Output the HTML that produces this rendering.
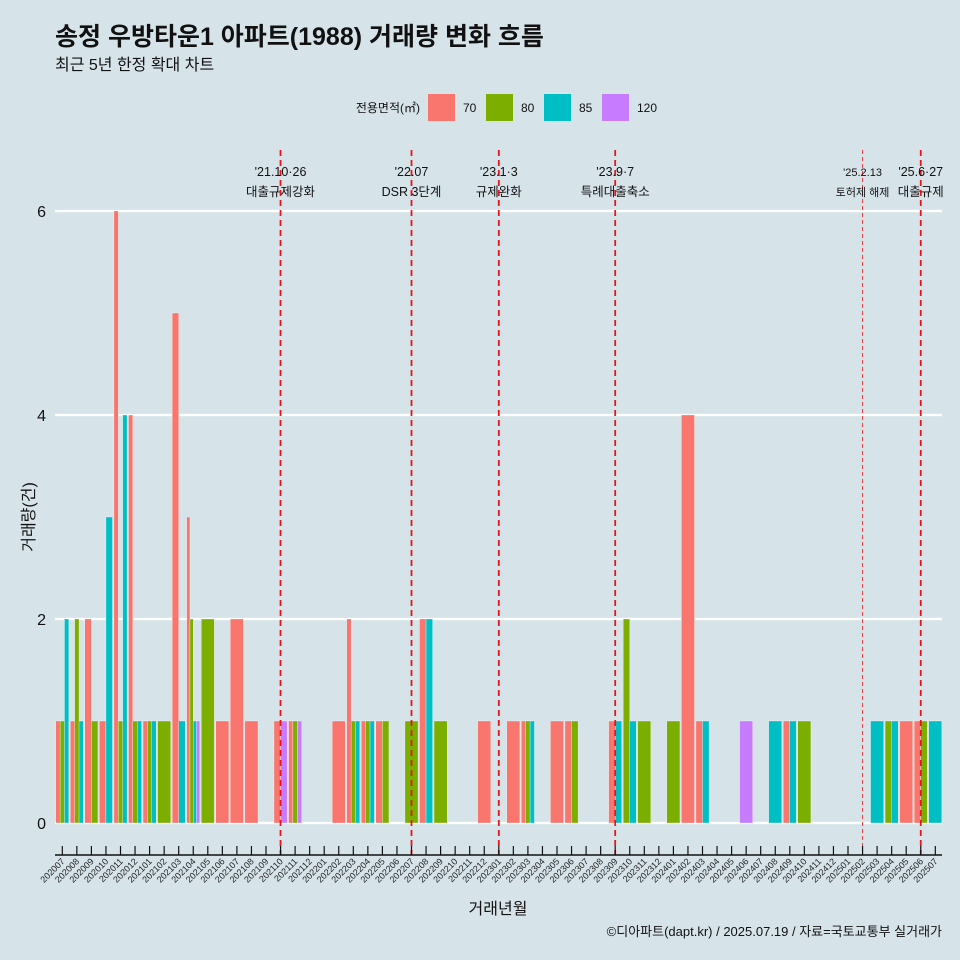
<!DOCTYPE html>
<html><head><meta charset="utf-8"><style>
body{margin:0;background:#d6e4ea;}
svg{display:block;font-family:"Liberation Sans","Noto Sans CJK KR",sans-serif;}
</style></head><body>
<svg id="chart" width="960" height="960" viewBox="0 0 960 960">
<rect x="0" y="0" width="960" height="960" fill="#d6e4ea"/>
<text x="55" y="45" font-size="25" font-weight="bold" fill="#111">송정 우방타운1 아파트(1988) 거래량 변화 흐름</text>
<text x="55" y="70" font-size="16" fill="#111">최근 5년 한정 확대 차트</text>
<g id="legend">
<text x="420" y="112" font-size="12" text-anchor="end" fill="#111">전용면적(㎡)</text>
</g>
<g id="grid"></g>
<g id="bars"></g>
<g id="events"></g>
<g id="xaxis"></g>
<text x="498" y="914" font-size="16" text-anchor="middle" fill="#111">거래년월</text>
<text transform="translate(34,517) rotate(-90)" font-size="16" text-anchor="middle" fill="#111">거래량(건)</text>
<text x="942" y="936" font-size="13" text-anchor="end" fill="#111">©디아파트(dapt.kr) / 2025.07.19 / 자료=국토교통부 실거래가</text>
</svg>
<script>
const types = ["70","80","85","120"];
const colors = ["#F8766D","#7CAE00","#00BFC4","#C77CFF"];
const yTicks = [0,2,4,6];
const startYear = 2020, startMonth = 7, nMonths = 61;
// per-month entries: month label -> list of [typeIndex, count]
const monthLabels = [];
for (let i=0;i<nMonths;i++){const m=startMonth-1+i;monthLabels.push(String(startYear+Math.floor(m/12))+String(m%12+1).padStart(2,"0"));}
const sales = {
"202007":[[0,1],[1,1],[2,2]],
"202008":[[0,1],[1,2],[2,1]],
"202009":[[0,2],[1,1]],
"202010":[[0,1],[2,3]],
"202011":[[0,6],[1,1],[2,4]],
"202012":[[0,4],[1,1],[2,1]],
"202101":[[0,1],[1,1],[2,1]],
"202102":[[1,1]],
"202103":[[0,5],[2,1]],
"202104":[[0,3],[1,2],[2,1],[3,1]],
"202105":[[1,2]],
"202106":[[0,1]],
"202107":[[0,2]],
"202108":[[0,1]],
"202110":[[0,1],[3,1]],
"202111":[[0,1],[1,1],[3,1]],
"202202":[[0,1]],
"202203":[[0,2],[1,1],[2,1]],
"202204":[[0,1],[1,1],[2,1]],
"202205":[[0,1],[1,1]],
"202207":[[1,1]],
"202208":[[0,2],[2,2]],
"202209":[[1,1]],
"202212":[[0,1]],
"202302":[[0,1]],
"202303":[[0,1],[1,1],[2,1]],
"202305":[[0,1]],
"202306":[[0,1],[1,1]],
"202309":[[0,1],[2,1]],
"202310":[[1,2],[2,1]],
"202311":[[1,1]],
"202401":[[1,1]],
"202402":[[0,4]],
"202403":[[0,1],[2,1]],
"202406":[[3,1]],
"202408":[[2,1]],
"202409":[[0,1],[2,1]],
"202410":[[1,1]],
"202503":[[2,1]],
"202504":[[1,1],[2,1]],
"202505":[[0,1]],
"202506":[[0,1],[1,1]],
"202507":[[2,1]]
};
const eventMonths = ["202110","202207","202301","202309","202502","202506"];
const eventDates = ["'21.10·26","'22.07","'23.1·3","'23.9·7","'25.2.13","'25.6·27"];
const eventNames = ["대출규제강화","DSR 3단계","규제완화","특례대출축소","토허제 해제","대출규제"];

const NS="http://www.w3.org/2000/svg";
function mk(tag,attrs,parent){const e=document.createElementNS(NS,tag);for(const k in attrs)e.setAttribute(k,attrs[k]);parent.appendChild(e);return e;}
const x0=62.3, step=14.55;
const xScale = i => x0 + i*step;
const yScale = v => 823 - v*102;
const grid=document.getElementById("grid");
yTicks.forEach(t=>{
  const l=mk("line",{x1:55,x2:942,y1:yScale(t),y2:yScale(t),stroke:"#fff","stroke-width":2.2},grid);
  
  
  const tx=mk("text",{x:46,y:yScale(t)+6,"font-size":16,"text-anchor":"end",fill:"#111"},grid);
  tx.textContent=t;
  
  
});
const bars=document.getElementById("bars");
const bw=13.1;
monthLabels.forEach((m,i)=>{
  const list=sales[m]; if(!list) return;
  const w=bw/list.length; const left=xScale(i)-bw/2;
  list.forEach(([t,v],j)=>{
    const r=mk("rect",{x:left+j*w,y:yScale(v),width:w,height:yScale(0)-yScale(v),fill:colors[t],stroke:"#fff","stroke-width":0.3},bars);
    
    
  });
});
const ev=document.getElementById("events");
eventMonths.forEach((m,k)=>{
  const i=monthLabels.indexOf(m); const x=xScale(i);
  const thin = m==="202502";
  const l=mk("line",{x1:x,x2:x,y1:150,y2:855,stroke:"#e8141a","stroke-width":thin?1:1.8,"stroke-dasharray":thin?"4,3":"6,4",opacity:thin?0.8:1},ev);
  
  
  const fs=thin?11:12.5;
  const a=mk("text",{x:x,y:176,"font-size":fs,"text-anchor":"middle",fill:"#111"},ev);
  a.textContent=eventDates[k];
  
  
  const b=mk("text",{x:x,y:196,"font-size":fs,"text-anchor":"middle",fill:"#111"},ev);
  b.textContent=eventNames[k];
  
  
});
const xa=document.getElementById("xaxis");
const al=mk("line",{x1:55,x2:942,y1:855,y2:855,stroke:"#111","stroke-width":1.5},xa);


monthLabels.forEach((m,i)=>{
  const x=xScale(i);
  const t=mk("line",{x1:x,x2:x,y1:846,y2:855,stroke:"#111","stroke-width":1.2},xa);
  
  
  const tx=mk("text",{transform:`translate(${x+3},${862}) rotate(-45)`,"font-size":9,"text-anchor":"end",fill:"#222"},xa);
  tx.textContent=m;
  
  
});
const lg=document.getElementById("legend");
types.forEach((t,k)=>{
  const x=428+k*58;
  const r=mk("rect",{x:x,y:94,width:27,height:27,fill:colors[k]},lg);
  
  
  const tx=mk("text",{x:x+35,y:112,"font-size":12,fill:"#111"},lg);
  tx.textContent=t;
  
  
});
</script>
</body></html>
